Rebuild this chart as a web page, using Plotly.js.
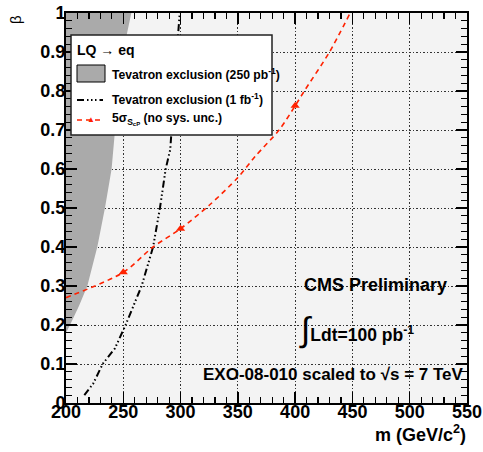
<!DOCTYPE html>
<html>
<head>
<meta charset="utf-8">
<script src="https://cdn.plot.ly/plotly-3.0.1.min.js"></script>
<style>html,body{margin:0;padding:0;background:#fff;}#chart{width:483px;height:452px;}</style>
</head>
<body>
<div id="chart"></div>
<script>
// Tevatron exclusion (250 pb^-1): boundary of grey excluded region (m, beta)
const tev250M = [200, 203.5, 211.5, 218.6, 227.3, 234, 239.8, 242.8, 253, 257];
const tev250B = [0.18, 0.2, 0.25, 0.3, 0.4, 0.5, 0.6, 0.7, 0.944, 1.0];
// Tevatron exclusion (1 fb^-1)
const tev1M = [216, 223.8, 232, 242.7, 252, 259.3, 266, 276, 282, 287, 291, 297.8, 299.3];
const tev1B = [0.02, 0.05, 0.1, 0.14, 0.2, 0.25, 0.3, 0.4, 0.5, 0.6, 0.65, 0.944, 1.0];
// 5 sigma S_cP (no sys. unc.)
const sigM = [200, 250, 276, 300, 325, 350, 365, 386, 400, 408, 430, 448];
const sigB = [0.27, 0.335, 0.4, 0.447, 0.507, 0.578, 0.632, 0.70, 0.762, 0.80, 0.90, 1.0];
const sigPtM = [250, 300, 400];
const sigPtB = [0.335, 0.447, 0.762];
// tick values
const xTicks = [200, 250, 300, 350, 400, 450, 500, 550];
const yTicks = [0, 0.1, 0.2, 0.3, 0.4, 0.5, 0.6, 0.7, 0.8, 0.9, 1];

const FONT = 'Liberation Sans, Arial, Helvetica, sans-serif';
const RED = '#ff2200';
const GREY = '#aaaaaa';

// pixel-layout helpers (plot area 66..467 x 13..403)
const L = 66, R = 16, T = 13, B = 49, W = 483, H = 452;
const pw = W - L - R, ph = H - T - B;
const px = v => (v - L) / pw;
const py = v => (H - B - v) / ph;

const DASHDOT = '7px,3px,1.5px,2.5px,1.5px,2.5px,1.5px,3px';

const traces = [
  {
    x: tev250M.concat([200]),
    y: tev250B.concat([1.0]),
    mode: 'lines', fill: 'toself', fillcolor: GREY,
    line: {width: 0, color: GREY}, hoverinfo: 'skip', showlegend: false
  },
  {
    x: tev1M, y: tev1B, mode: 'lines',
    line: {color: '#000', width: 2, dash: DASHDOT},
    showlegend: false
  },
  {
    x: sigM, y: sigB, mode: 'lines',
    line: {color: RED, width: 1.6, dash: '5px,4px', shape: 'spline', smoothing: 0.8},
    showlegend: false
  },
  {
    x: sigPtM, y: sigPtB, mode: 'markers',
    marker: {symbol: 'triangle-up', size: 8, color: RED},
    showlegend: false
  }
];

const axisCommon = {
  showline: true, linecolor: '#000', linewidth: 2, mirror: 'ticks',
  ticks: 'inside', ticklen: 11, tickwidth: 1.5, tickcolor: '#000',
  showgrid: true, gridcolor: '#333', gridwidth: 1, griddash: '1.5px,2px',
  zeroline: false,
  tickfont: {family: FONT, size: 18, color: '#000', weight: 'bold'}
};

const shapes = [
  // legend box
  {type: 'rect', xref: 'paper', yref: 'paper', x0: px(71), x1: px(272), y0: py(135), y1: py(35),
   fillcolor: '#fff', line: {color: '#222', width: 1.5}, layer: 'above'},
  // grey sample
  {type: 'rect', xref: 'paper', yref: 'paper', x0: px(77), x1: px(105), y0: py(82), y1: py(65),
   fillcolor: GREY, line: {color: '#000', width: 1}, layer: 'above'},
  // black sample
  {type: 'line', xref: 'paper', yref: 'paper', x0: px(77), x1: px(103), y0: py(100), y1: py(100),
   line: {color: '#000', width: 2, dash: DASHDOT}, layer: 'above'},
  // red sample
  {type: 'line', xref: 'paper', yref: 'paper', x0: px(77), x1: px(104), y0: py(120), y1: py(120),
   line: {color: RED, width: 1.6, dash: '5px,4px'}, layer: 'above'}
];

const ann = (text, x, y, size, opts) => Object.assign({
  text: text, xref: 'paper', yref: 'paper', x: px(x), y: py(y),
  xanchor: 'left', yanchor: 'middle', showarrow: false,
  font: {family: FONT, size: size, color: '#000', weight: 'bold'}
}, opts || {});

const annotations = [
  ann('LQ → eq', 75, 50, 14),
  ann('Tevatron exclusion (250 pb<sup>-1</sup>)', 110, 74, 12.2),
  ann('Tevatron exclusion (1 fb<sup>-1</sup>)', 110, 99, 12.2),
  ann('5σ<sub>S<sub>cP</sub></sub> (no sys. unc.)', 110, 119, 12.2),
  ann('▲', 90.5, 119, 8, {xanchor: 'center', font: {family: FONT, size: 8, color: RED}}),
  ann('CMS Preliminary', 302, 285, 18),
  ann('<span style="font-size:34px;font-weight:normal">∫</span>Ldt=100 pb<sup>-1</sup>', 297, 329, 17.5),
  ann('EXO-08-010 scaled to √s = 7 TeV', 201, 374, 17),
  ann('m (GeV/c<sup>2</sup>)', 468, 433, 18, {xanchor: 'right'}),
  ann('β', 15, 20, 15, {xanchor: 'center', textangle: -90,
       font: {family: FONT, size: 15, color: '#000'}})
];

const layout = {
  width: W, height: H,
  margin: {l: L, r: R, t: T, b: B, pad: 0},
  paper_bgcolor: '#fff', plot_bgcolor: '#f3f3f3',
  showlegend: false,
  xaxis: Object.assign({}, axisCommon, {
    range: [200, 550], tickvals: xTicks, ticktext: xTicks.map(String),
    minor: {dtick: 10, ticks: 'inside', ticklen: 6, tickwidth: 1.2, tickcolor: '#000', showgrid: false},
    ticklabelstandoff: -9
  }),
  yaxis: Object.assign({}, axisCommon, {
    range: [0, 1], tickvals: yTicks, ticktext: yTicks.map(String),
    minor: {dtick: 0.02, ticks: 'inside', ticklen: 6, tickwidth: 1.2, tickcolor: '#000', showgrid: false},
    ticklabelstandoff: -5
  }),
  shapes: shapes,
  annotations: annotations
};

Plotly.newPlot('chart', traces, layout, {staticPlot: true, displayModeBar: false});
</script>
</body>
</html>
